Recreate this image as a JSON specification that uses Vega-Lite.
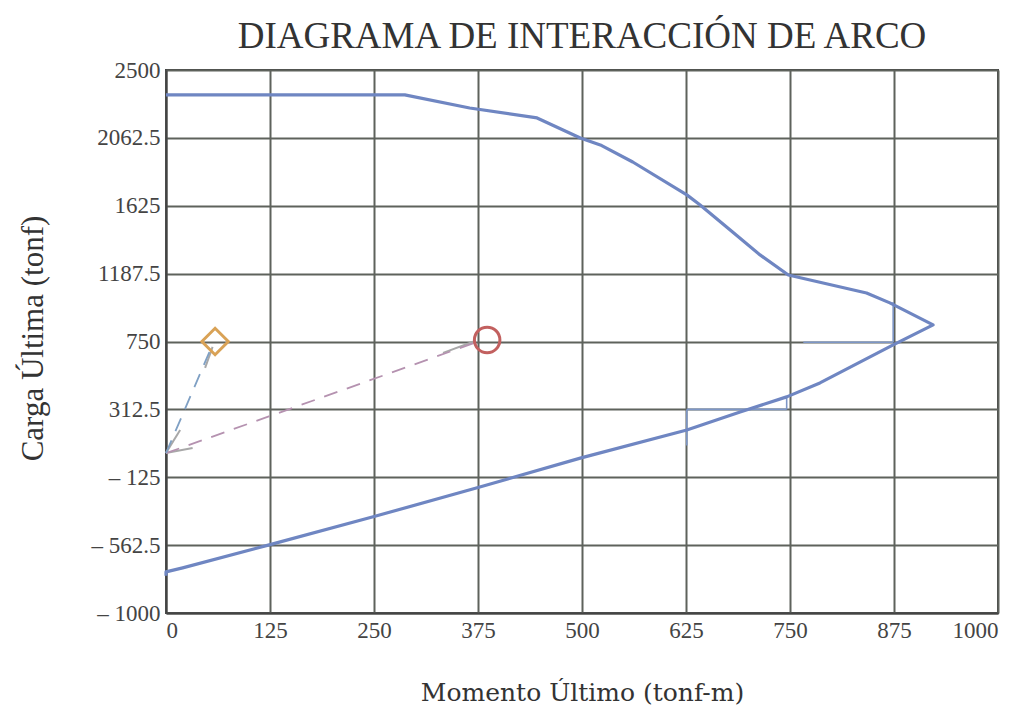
{
  "$schema": "https://vega.github.io/schema/vega-lite/v6.json",
  "width": 832,
  "height": 543,
  "autosize": "none",
  "padding": {"left": 166, "top": 70, "right": 33, "bottom": 102},
  "background": "white",
  "title": {
    "text": "DIAGRAMA DE INTERACCIÓN DE ARCO",
    "font": "Liberation Serif",
    "fontSize": 37,
    "fontWeight": "normal",
    "color": "#333333",
    "anchor": "middle",
    "offset": 3
  },
  "config": {
    "view": {"stroke": "#444444", "strokeWidth": 2},
    "axis": {
      "labelFont": "Liberation Serif",
      "labelFontSize": 23,
      "labelColor": "#444444",
      "titleFont": "Liberation Serif",
      "titleFontSize": 31,
      "titleFontWeight": "normal",
      "titleColor": "#333333",
      "gridColor": "#5e625c",
      "gridWidth": 2,
      "gridOpacity": 1,
      "domainColor": "#444444",
      "domainWidth": 2,
      "ticks": false,
      "labelPadding": 6
    }
  },
  "datasets": {
    "curve": [
      {"i": 0, "x": 0, "y": -760},
      {"i": 1, "x": 0, "y": -735},
      {"i": 2, "x": 20, "y": -709},
      {"i": 3, "x": 124, "y": -561},
      {"i": 4, "x": 249, "y": -380},
      {"i": 5, "x": 374, "y": -193},
      {"i": 6, "x": 499, "y": 0},
      {"i": 7, "x": 626, "y": 180},
      {"i": 8, "x": 690, "y": 296},
      {"i": 9, "x": 746, "y": 393},
      {"i": 10, "x": 786, "y": 483},
      {"i": 11, "x": 874, "y": 728},
      {"i": 12, "x": 922, "y": 857},
      {"i": 13, "x": 870, "y": 999},
      {"i": 14, "x": 842, "y": 1063},
      {"i": 15, "x": 748, "y": 1179},
      {"i": 16, "x": 714, "y": 1308},
      {"i": 17, "x": 681, "y": 1456},
      {"i": 18, "x": 642, "y": 1630},
      {"i": 19, "x": 626, "y": 1695},
      {"i": 20, "x": 561, "y": 1907},
      {"i": 21, "x": 522, "y": 2017},
      {"i": 22, "x": 498, "y": 2062},
      {"i": 23, "x": 446, "y": 2191},
      {"i": 24, "x": 365, "y": 2255},
      {"i": 25, "x": 287, "y": 2340},
      {"i": 26, "x": 0, "y": 2340}
    ],
    "segs": [
      {"s": "a", "i": 0, "x": 766, "y": 745},
      {"s": "a", "i": 1, "x": 874, "y": 745},
      {"s": "b", "i": 0, "x": 874, "y": 745},
      {"s": "b", "i": 1, "x": 874, "y": 1005},
      {"s": "c", "i": 0, "x": 626, "y": 312.5},
      {"s": "c", "i": 1, "x": 746, "y": 312.5},
      {"s": "d", "i": 0, "x": 746, "y": 312.5},
      {"s": "d", "i": 1, "x": 746, "y": 400},
      {"s": "e", "i": 0, "x": 626, "y": 312.5},
      {"s": "e", "i": 1, "x": 626, "y": 80}
    ],
    "dash": [
      {"s": "circ", "i": 0, "x": 0, "y": 30},
      {"s": "circ", "i": 1, "x": 378, "y": 755},
      {"s": "diam", "i": 0, "x": 0, "y": 30},
      {"s": "diam", "i": 1, "x": 56, "y": 730}
    ],
    "gray": [
      {"s": "g1", "i": 0, "x": 333, "y": 677},
      {"s": "g1", "i": 1, "x": 370, "y": 750},
      {"s": "g2", "i": 0, "x": 47, "y": 580},
      {"s": "g2", "i": 1, "x": 56, "y": 715},
      {"s": "g3", "i": 0, "x": 0, "y": 32},
      {"s": "g3", "i": 1, "x": 17, "y": 180},
      {"s": "g4", "i": 0, "x": 0, "y": 32},
      {"s": "g4", "i": 1, "x": 32, "y": 64}
    ],
    "pts": [
      {"name": "diamond", "x": 59, "y": 750},
      {"name": "circle", "x": 386, "y": 760}
    ]
  },
  "encoding": {
    "x": {
      "field": "x",
      "type": "quantitative",
      "scale": {"domain": [0, 1000], "nice": false, "zero": false},
      "axis": {
        "values": [0, 125, 250, 375, 500, 625, 750, 875, 1000],
        "format": "d",
        "title": "Momento Último (tonf-m)",
        "titleFont": "DejaVu Serif",
        "titleFontSize": 25,
        "titleBaseline": "middle",
        "titleY": 79
      }
    },
    "y": {
      "field": "y",
      "type": "quantitative",
      "scale": {"domain": [-1000, 2500], "nice": false, "zero": false},
      "axis": {
        "values": [-1000, -562.5, -125, 312.5, 750, 1187.5, 1625, 2062.5, 2500],
        "format": ".1~f",
        "labelExpr": "datum.value < 0 ? '– ' + format(abs(datum.value), '.1~f') : datum.label",
        "title": "Carga Última (tonf)",
        "titleX": -133,
        "titleY": 268,
        "titleBaseline": "middle",
        "titleAngle": -90
      }
    }
  },
  "layer": [
    {
      "data": {"name": "gray"},
      "mark": {"type": "line", "color": "#a8a8a8", "strokeWidth": 2},
      "encoding": {"detail": {"field": "s"}, "order": {"field": "i"}}
    },
    {
      "data": {"name": "dash"},
      "transform": [{"filter": "datum.s == 'circ'"}],
      "mark": {"type": "line", "color": "#b592b0", "strokeWidth": 1.8, "strokeDash": [14, 10]},
      "encoding": {"order": {"field": "i"}}
    },
    {
      "data": {"name": "dash"},
      "transform": [{"filter": "datum.s == 'diam'"}],
      "mark": {"type": "line", "color": "#7fa0c4", "strokeWidth": 1.8, "strokeDash": [14, 10]},
      "encoding": {"order": {"field": "i"}}
    },
    {
      "data": {"name": "segs"},
      "mark": {"type": "line", "color": "#7d96c6", "strokeWidth": 1.6},
      "encoding": {"detail": {"field": "s"}, "order": {"field": "i"}}
    },
    {
      "data": {"name": "curve"},
      "mark": {"type": "line", "color": "#6f86c2", "strokeWidth": 3.2, "strokeJoin": "round"},
      "encoding": {"order": {"field": "i"}}
    },
    {
      "data": {"name": "pts"},
      "transform": [{"filter": "datum.name == 'diamond'"}],
      "mark": {"type": "point", "shape": "diamond", "size": 700, "filled": false, "color": "#d9a256", "strokeWidth": 3, "opacity": 1}
    },
    {
      "data": {"name": "pts"},
      "transform": [{"filter": "datum.name == 'circle'"}],
      "mark": {"type": "point", "shape": "circle", "size": 650, "filled": false, "color": "#c2605f", "strokeWidth": 3, "opacity": 1}
    }
  ]
}
